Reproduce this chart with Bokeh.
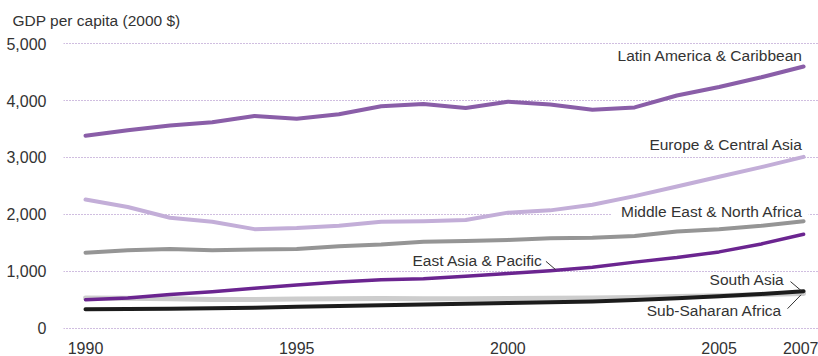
from bokeh.plotting import figure
from bokeh.models import Range1d, FixedTicker, Label, ColumnDataSource, NumeralTickFormatter
from bokeh.embed import file_html
from bokeh.resources import INLINE

years = list(range(1990, 2008))
latin_america = [3380, 3480, 3560, 3620, 3730, 3680, 3760, 3900, 3940, 3870, 3980, 3930, 3840, 3880, 4090, 4240, 4410, 4600]
europe_central_asia = [2260, 2130, 1940, 1870, 1740, 1760, 1800, 1870, 1880, 1900, 2030, 2070, 2170, 2320, 2490, 2660, 2830, 3010]
middle_east_n_africa = [1325, 1370, 1390, 1370, 1380, 1390, 1440, 1470, 1520, 1530, 1550, 1580, 1590, 1620, 1700, 1740, 1800, 1880]
east_asia_pacific = [500, 530, 590, 640, 700, 760, 810, 850, 870, 910, 960, 1010, 1070, 1160, 1240, 1340, 1480, 1650]
sub_saharan_africa = [530, 525, 515, 505, 505, 510, 515, 520, 515, 515, 520, 525, 530, 540, 555, 570, 590, 610]
south_asia = [330, 335, 340, 350, 360, 375, 390, 400, 415, 430, 440, 455, 470, 495, 525, 560, 600, 650]

y_ticks = [0, 1000, 2000, 3000, 4000, 5000]
x_ticks = [1990, 1995, 2000, 2005, 2007]

FONT = "Liberation Sans"
TEXT = "#333333"

p = figure(width=818, height=356, output_backend="svg", toolbar_location=None,
           x_range=Range1d(1989.479, 2007.353), y_range=Range1d(-77, 5232),
           min_border_left=63, min_border_right=0, min_border_top=30, min_border_bottom=22)
p.outline_line_color = None
p.background_fill_color = "white"

p.title.text = "GDP per capita (2000 $)"
p.title.align = "left"
p.title.offset = -51
p.title.text_font = FONT
p.title.text_font_size = "15.5px"
p.title.text_font_style = "normal"
p.title.text_color = TEXT
p.title.standoff = 4

p.xgrid.grid_line_color = None
p.ygrid.ticker = FixedTicker(ticks=y_ticks)
p.ygrid.grid_line_color = "#a07cc0"
p.ygrid.grid_line_width = 1
p.ygrid.grid_line_dash = "1 2"

for ax in (p.xaxis[0], p.yaxis[0]):
    ax.axis_line_color = None
    ax.major_tick_line_color = None
    ax.minor_tick_line_color = None
    ax.major_label_text_font = FONT
    ax.major_label_text_font_size = "16px"
    ax.major_label_text_color = TEXT

p.yaxis.ticker = FixedTicker(ticks=y_ticks)
p.yaxis.formatter = NumeralTickFormatter(format="0,0")
p.yaxis.major_label_standoff = 11
p.xaxis.ticker = FixedTicker(ticks=x_ticks)
p.xaxis.major_label_standoff = 3

# white gap in the 2,000 gridline behind the Middle East label
p.quad(left=[2002.45], right=[2007.12], bottom=[1970], top=[2030],
       fill_color="white", line_color=None)

series = [
    (sub_saharan_africa, "#cdcdcd", 5),
    (south_asia, "#1c1c1c", 4),
    (middle_east_n_africa, "#959595", 4),
    (east_asia_pacific, "#6b2590", 3.5),
    (europe_central_asia, "#c3aed8", 4),
    (latin_america, "#8a5ea8", 4),
]
for vals, col, w in series:
    p.line(years, vals, line_color=col, line_width=w, line_cap="round", line_join="round")

labels = [
    ("Latin America & Caribbean", 2006.98, 4792),
    ("Europe & Central Asia", 2006.98, 3222),
    ("Middle East & North Africa", 2006.98, 2045),
    ("East Asia & Pacific", 2000.82, 1197),
    ("South Asia", 2006.55, 848),
    ("Sub-Saharan Africa", 2006.49, 307),
]
for txt, x, y in labels:
    p.add_layout(Label(x=x, y=y, text=txt, text_align="right", text_baseline="middle",
                       text_font=FONT, text_font_size="15.5px", text_color=TEXT))

leaders = ColumnDataSource(dict(
    x0=[2000.90, 2006.69, 2006.62], y0=[1174, 818, 342],
    x1=[2001.13, 2006.94, 2006.94], y1=[1028, 661, 586]))
p.segment("x0", "y0", "x1", "y1", source=leaders, line_color=TEXT, line_width=1)

open("out.html", "w").write(file_html(p, INLINE))
